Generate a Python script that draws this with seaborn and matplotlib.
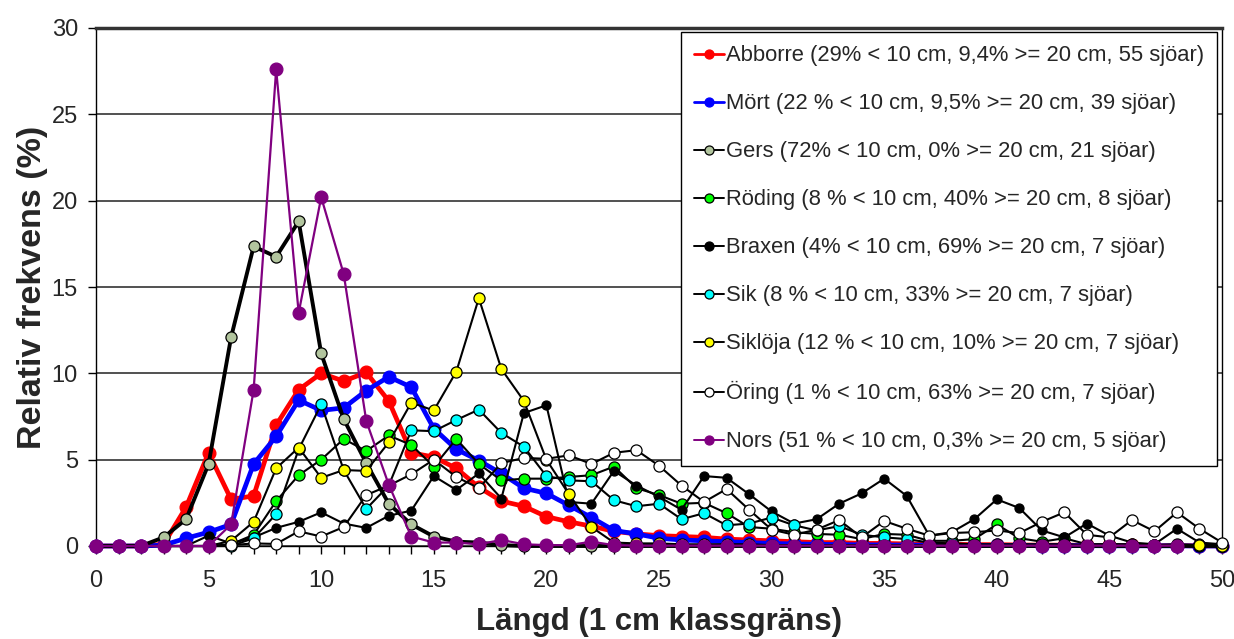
import numpy as np
import matplotlib
matplotlib.use("Agg")
import matplotlib.pyplot as plt
import seaborn as sns
from matplotlib.ticker import MultipleLocator

nan = np.nan
lengths = list(range(51))

abborre = [0, 0, 0, 0.1, 2.25, 5.4, 2.7, 2.9, 7.0, 9.05, 10.0, 9.55, 10.05, 8.4, 5.4, 5.15, 4.5, 3.4, 2.6, 2.3,
           1.7, 1.4, 1.15, 0.85, 0.7, 0.6, 0.55, 0.5, 0.4, 0.35, 0.3, 0.25, 0.2, 0.2, 0.15, 0.15, 0.12, 0.1, 0.1, 0.08,
           0.08, 0.06, 0.05, 0.05, 0.04, 0.03, 0.03, 0.02, 0.02, 0.01, 0.01]
mort = [0, 0, 0, 0.05, 0.45, 0.8, 1.25, 4.75, 6.35, 8.45, 7.85, 8.0, 9.0, 9.8, 9.2, 6.8, 5.6, 4.95, 4.2, 3.35,
        3.05, 2.35, 1.65, 0.9, 0.7, 0.45, 0.35, 0.3, 0.25, 0.2, 0.15, 0.12, 0.1, 0.08, 0.07, 0.06, 0.05, 0.05, 0.04, 0.04,
        0.03, 0.03, 0.02, 0.02, 0.02, 0.01, 0.01, 0.01, 0.01, 0, 0]
gers = [0, 0, 0, 0.5, 1.55, 4.75, 12.1, 17.35, 16.75, 18.8, 11.15, 7.35, 4.8, 2.45, 1.25, 0.55, 0.25, 0.2, 0.05, 0,
        0, 0, 0, 0, 0, 0, 0, 0, 0, 0, 0, 0, 0, 0, 0, 0, 0, 0, 0, 0,
        0, 0, 0, 0, 0, 0, 0, 0, 0, 0, 0]
roding = [0, 0, 0, 0, 0, 0, 0.1, 0.65, 2.6, 4.1, 5.0, 6.2, 5.5, 6.4, 5.85, 4.6, 6.2, 4.75, 3.8, 3.9,
          3.9, 4.0, 4.1, 4.6, 3.35, 2.95, 2.45, 2.5, 1.9, 1.1, 1.0, 0.8, 0.7, 0.65, 0.4, 0.7, 0.65, 0.3, 0.3, 0.4,
          1.25, 0.45, 0.25, 0.45, 0.1, 0.1, 0.1, 0.05, 0.1, 0.05, 0]
braxen = [0, 0, 0, 0, 0, 0.6, 0.15, 0.5, 1.05, 1.4, 1.95, 1.3, 1.05, 1.75, 2.05, 4.05, 3.25, 4.2, 2.75, 7.7,
          8.15, 2.55, 2.45, 4.35, 3.5, 2.85, 2.1, 4.05, 3.95, 3.0, 2.0, 1.3, 1.55, 2.45, 3.05, 3.9, 2.9, 0.6, 0.8, 1.55,
          2.7, 2.2, 0.9, 0.5, 1.3, 0.6, 0.2, 0.1, 1.0, 0.2, 0.1]
sik = [0, 0, 0, 0, 0, 0, 0, 0.45, 1.85, 5.6, 8.2, 4.4, 2.15, 3.5, 6.7, 6.65, 7.3, 7.9, 6.55, 5.75,
       4.05, 3.8, 3.75, 2.65, 2.3, 2.45, 1.55, 1.9, 1.2, 1.3, 1.65, 1.2, 0.9, 1.15, 0.65, 0.5, 0.4, 0.2, 0.15, 0.1,
       0.1, 0.1, 0.1, 0.1, 0.05, 0.1, 0.05, 0.05, 0.05, 0.05, 0]
sikloja = [0, 0, 0, 0, 0, 0, 0.3, 1.4, 4.5, 5.7, 3.95, 4.4, 4.35, 6.0, 8.3, 7.85, 10.1, 14.35, 10.25, 8.4,
           5.0, 3.0, 1.1, 0.2, 0.15, 0.15, 0.1, 0.1, 0.1, 0.1, 0.05, 0.05, 0.05, 0.05, 0.05, 0.05, 0.05, 0.05, 0.05, 0.05,
           0.05, 0.05, 0.05, 0.05, 0.05, 0.05, 0.05, 0.05, 0.05, 0.05, 0]
oring = [0, 0, 0, 0, 0, 0, 0.05, 0.15, 0.12, 0.85, 0.55, 1.1, 2.95, 3.5, 4.15, 5.0, 4.0, 3.35, 4.8, 5.1,
         5.05, 5.25, 4.75, 5.4, 5.55, 4.65, 3.5, 2.55, 3.3, 2.1, 0.95, 0.65, 0.95, 1.5, 0.5, 1.45, 1.0, 0.6, 0.75, 0.8,
         0.9, 0.75, 1.4, 1.95, 0.65, 0.5, 1.5, 0.85, 1.95, 1.0, 0.2]
nors = [0, 0, 0, 0, 0, 0, 1.25, 9.05, 27.6, 13.5, 20.2, 15.75, 7.25, 3.55, 0.55, 0.2, 0.2, 0.1, 0.35, 0.1,
        0.05, 0.05, 0.25, 0.05, 0.02, 0.02, 0.02, 0.02, 0.02, 0.02, 0.02, 0.02, 0.02, 0.02, 0.02, 0.02, 0.02, 0.02, 0.02, 0.02,
        0.02, 0.02, 0.02, 0.02, 0.02, 0.02, 0.02, 0.02, 0.02, nan, nan]

labels = [
    "Abborre (29% < 10 cm, 9,4% >= 20 cm, 55 sjöar)",
    "Mört (22 % < 10 cm, 9,5% >= 20 cm, 39 sjöar)",
    "Gers (72% < 10 cm, 0% >= 20 cm, 21 sjöar)",
    "Röding (8 % < 10 cm, 40% >= 20 cm, 8 sjöar)",
    "Braxen (4% < 10 cm, 69% >= 20 cm, 7 sjöar)",
    "Sik (8 % < 10 cm, 33% >= 20 cm, 7 sjöar)",
    "Siklöja (12 % < 10 cm, 10% >= 20 cm, 7 sjöar)",
    "Öring (1 % < 10 cm, 63% >= 20 cm, 7 sjöar)",
    "Nors (51 % < 10 cm, 0,3% >= 20 cm, 5 sjöar)",
]
series = [abborre, mort, gers, roding, braxen, sik, sikloja, oring, nors]

# (line colour, line width, marker face, marker edge, marker size)
styles = [
    ("#FF0000", 3.4, "#FF0000", "#FF0000", 9.2),
    ("#0000FF", 3.4, "#0000FF", "#0000FF", 9.2),
    ("#000000", 2.8, "#B2C59E", "#000000", 8.0),
    ("#000000", 1.5, "#00FF00", "#000000", 8.0),
    ("#000000", 1.5, "#000000", "#000000", 6.5),
    ("#000000", 1.5, "#00FFFF", "#000000", 8.0),
    ("#000000", 1.5, "#FFFF00", "#000000", 8.0),
    ("#000000", 1.5, "#FFFFFF", "#000000", 8.0),
    ("#800080", 1.6, "#800080", "#800080", 9.2),
]

sns.set_style("ticks")
plt.rcParams['font.family'] = ['Liberation Sans', 'DejaVu Sans']

fig = plt.figure(figsize=(12.34, 6.39), dpi=100)
ax = fig.add_axes([96 / 1234, 1 - 546 / 639, (1222 - 96) / 1234, (546 - 28) / 639])

for i, (vals, lab, st) in enumerate(zip(series, labels, styles)):
    lc, lw, mfc, mec, ms = st
    sns.lineplot(x=lengths, y=vals, ax=ax, color=lc, linewidth=lw, marker="o",
                 markersize=ms, markerfacecolor=mfc, markeredgecolor=mec,
                 markeredgewidth=0.9, label=lab, zorder=3 + i, clip_on=False)

ax.set_xlim(0, 50)
ax.set_ylim(0, 30)
ax.xaxis.set_major_locator(MultipleLocator(5))
ax.xaxis.set_minor_locator(MultipleLocator(1))
ax.yaxis.set_major_locator(MultipleLocator(5))
ax.tick_params(axis="both", which="both", direction="out", length=6, width=1,
               color="black", labelsize=17)
ax.tick_params(axis="y", pad=7)
ax.tick_params(axis="x", pad=11)
ax.yaxis.grid(True, color="#222222", linewidth=1.1)
ax.set_axisbelow(True)
for side in ["left", "bottom", "right"]:
    ax.spines[side].set_color("black")
    ax.spines[side].set_linewidth(1.0)
ax.spines["top"].set_color("#333333")
ax.spines["top"].set_linewidth(2.5)

ax.set_xlabel("Längd (1 cm klassgräns)", fontsize=22.5, fontweight="bold", labelpad=11)
ax.set_ylabel("Relativ frekvens (%)", fontsize=24.5, fontweight="bold", labelpad=3)

handles, labs = ax.get_legend_handles_labels()
leg = ax.legend(handles, labs, loc="upper right", bbox_to_anchor=(0.996, 0.992),
                fontsize=15.8, frameon=True, fancybox=False, framealpha=1,
                edgecolor="black", labelspacing=1.23, handlelength=1.35,
                handletextpad=0.1, borderpad=0.6, borderaxespad=0)
leg.get_frame().set_linewidth(1.0)
leg.set_zorder(20)
for h in leg.legend_handles:
    h.set_markersize(6.5)
    h.set_linewidth(2.0 if h.get_color() in ("#FF0000", "#0000FF") else 1.4)

fig.savefig("out.png", dpi=100)
